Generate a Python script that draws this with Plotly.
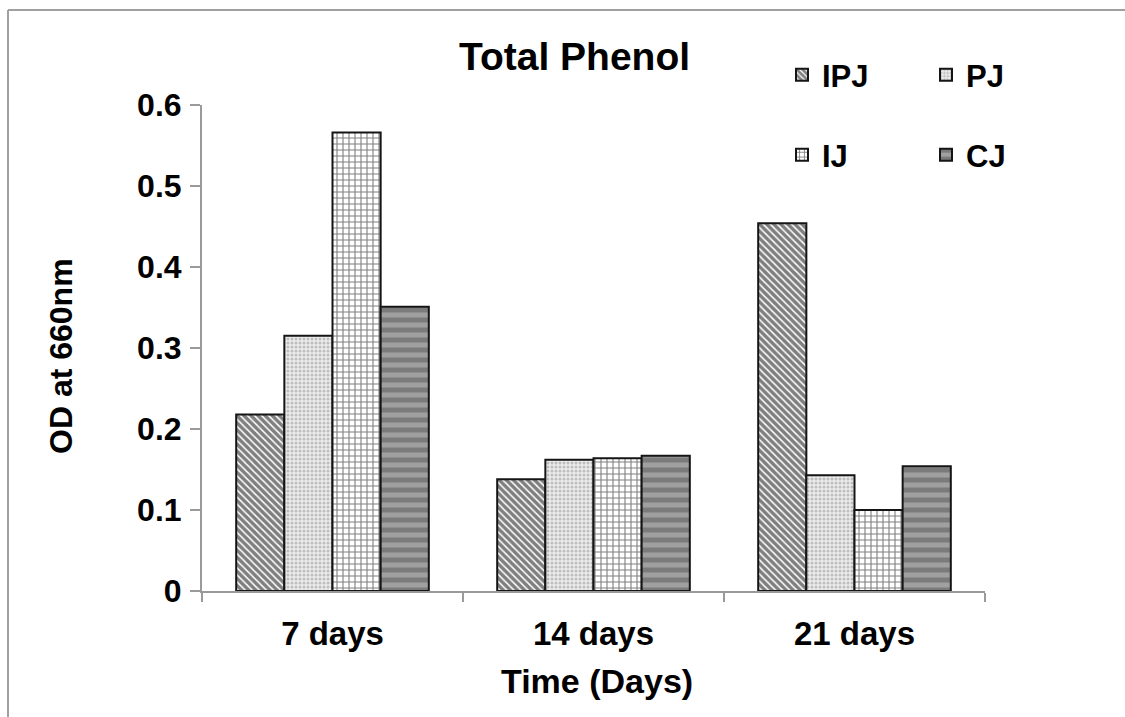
import plotly.graph_objects as go

categories = ["7 days", "14 days", "21 days"]
series_names = ["IPJ", "PJ", "IJ", "CJ"]
ipj = [0.218, 0.138, 0.454]
pj = [0.315, 0.162, 0.143]
ij = [0.566, 0.164, 0.100]
cj = [0.351, 0.167, 0.154]
y_ticks = [0, 0.1, 0.2, 0.3, 0.4, 0.5, 0.6]
y_tick_labels = ["0", "0.1", "0.2", "0.3", "0.4", "0.5", "0.6"]

FONT = "Arial, 'Liberation Sans', sans-serif"

styles = {
    "IPJ": dict(shape="\\", fgcolor="#000000", bgcolor="#ffffff", size=5, solidity=0.7),
    "PJ": dict(shape=".", fgcolor="#8e8e8e", bgcolor="#ececec", size=4, solidity=0.45),
    "IJ": dict(shape="+", fgcolor="#000000", bgcolor="#ffffff", size=6, solidity=0.33),
    "CJ": dict(shape="-", fgcolor="#565656", bgcolor="#a0a0a0", size=10, solidity=0.5),
}
legend_of = {"IPJ": "legend", "PJ": "legend", "IJ": "legend2", "CJ": "legend2"}

fig = go.Figure()
for name, vals in zip(series_names, [ipj, pj, ij, cj]):
    fig.add_trace(go.Bar(
        x=categories, y=vals, name=name,
        marker=dict(color=styles[name]["bgcolor"],
                    pattern=styles[name],
                    line=dict(color="#151515", width=2)),
        legend=legend_of[name],
    ))

W, H = 1125, 717
L, R, T, B = 202, 140, 105, 126
pw, ph = W - L - R, H - T - B

def px_x(x):
    return (x - L) / pw

def px_y(y):
    return (H - B - y) / ph

legend_font = dict(family=FONT, size=31, color="black", weight="bold")

fig.update_layout(
    width=W, height=H,
    margin=dict(l=L, r=R, t=T, b=B),
    paper_bgcolor="white", plot_bgcolor="white",
    barmode="group", bargap=0.262, bargroupgap=0,
    font=dict(family=FONT, size=31, color="black"),
    showlegend=True,
    legend=dict(orientation="h", x=px_x(782), y=px_y(48), xanchor="left", yanchor="top",
                entrywidth=99, bgcolor="rgba(0,0,0,0)", font=legend_font,
                traceorder="normal"),
    legend2=dict(orientation="h", x=px_x(782), y=px_y(128), xanchor="left", yanchor="top",
                 entrywidth=99, bgcolor="rgba(0,0,0,0)", font=legend_font,
                 traceorder="normal"),
    xaxis=dict(
        type="category", showline=True, linecolor="#9a9a9a", linewidth=2,
        ticks="outside", tickson="boundaries", ticklen=9, tickcolor="#9a9a9a", tickwidth=2,
        tickfont=dict(family=FONT, size=33, color="black", weight="bold"),
        ticklabelstandoff=12, showgrid=False, zeroline=False,
    ),
    yaxis=dict(
        range=[0, 0.6], tickvals=y_ticks, ticktext=y_tick_labels,
        showline=True, linecolor="#9a9a9a", linewidth=2,
        ticks="outside", ticklen=10, tickcolor="#9a9a9a", tickwidth=2,
        tickfont=dict(family=FONT, size=32, color="black", weight="bold"),
        ticklabelstandoff=2, showgrid=False, zeroline=False,
    ),
    annotations=[
        dict(text="<b>Total Phenol</b>", xref="paper", yref="paper",
             x=px_x(574), y=px_y(56), showarrow=False,
             font=dict(family=FONT, size=39, color="black"), xanchor="center", yanchor="middle"),
        dict(text="<b>OD at 660nm</b>", xref="paper", yref="paper",
             x=px_x(61), y=px_y(356), showarrow=False, textangle=-90,
             font=dict(family=FONT, size=32, color="black"), xanchor="center", yanchor="middle"),
        dict(text="<b>Time (Days)</b>", xref="paper", yref="paper",
             x=px_x(597), y=px_y(681), showarrow=False,
             font=dict(family=FONT, size=34, color="black"), xanchor="center", yanchor="middle"),
    ],
    shapes=[
        dict(type="line", xref="paper", yref="paper",
             x0=px_x(8), x1=px_x(1140), y0=px_y(10), y1=px_y(10),
             line=dict(color="#a0a0a0", width=2)),
        dict(type="line", xref="paper", yref="paper",
             x0=px_x(8), x1=px_x(8), y0=px_y(10), y1=px_y(730),
             line=dict(color="#a0a0a0", width=2)),
    ],
)

fig.write_html("out.html")
